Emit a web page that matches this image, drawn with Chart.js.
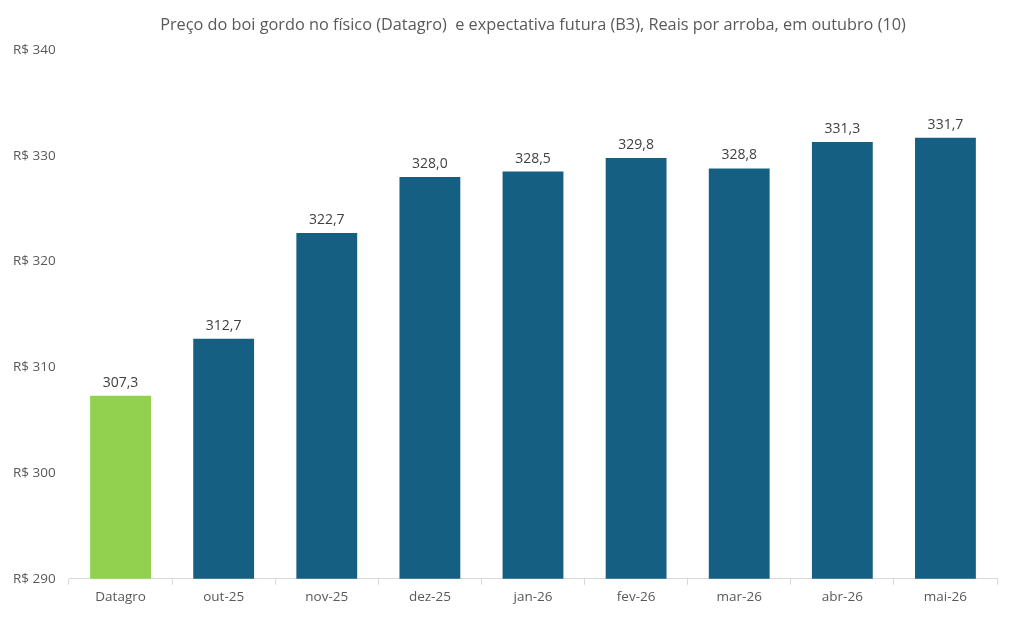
<!DOCTYPE html>
<html><head><meta charset="utf-8">
<script src="https://cdn.jsdelivr.net/npm/chart.js@4"></script>
<style>html,body{margin:0;padding:0;background:#fff}#w{width:1011px;height:629px}</style>
</head><body><div id="w"><canvas id="c"></canvas></div>
<script>
const categories = ["Datagro","out-25","nov-25","dez-25","jan-26","fev-26","mar-26","abr-26","mai-26"];
const values = [307.3,312.7,322.7,328.0,328.5,329.8,328.8,331.3,331.7];
const barColors = ["#92d050","#156082","#156082","#156082","#156082","#156082","#156082","#156082","#156082"];
const yMin = 290, yMax = 340, yStep = 10;
const titleText = "Preço do boi gordo no físico (Datagro)  e expectativa futura (B3), Reais por arroba, em outubro (10)";
const FONT = "'Open Sans', 'Noto Sans', sans-serif";

const labelPlugin = {
  id: 'barLabels',
  afterDatasetsDraw(chart) {
    const ctx = chart.ctx;
    const meta = chart.getDatasetMeta(0);
    ctx.save();
    ctx.font = "14px " + FONT;
    ctx.fillStyle = "#404040";
    ctx.textAlign = "center";
    ctx.textBaseline = "bottom";
    meta.data.forEach((el, i) => {
      ctx.fillText(values[i].toFixed(1).replace('.', ','), el.x, el.y - 6);
    });
    ctx.restore();
  }
};

const titlePlugin = {
  id: 'centeredTitle',
  afterDraw(chart) {
    const ctx = chart.ctx, a = chart.chartArea;
    ctx.save();
    ctx.font = "16.3px " + FONT;
    ctx.fillStyle = "#595959";
    ctx.textAlign = "center";
    ctx.textBaseline = "middle";
    ctx.fillText(titleText, (a.left + a.right) / 2, 25);
    ctx.restore();
  }
};

new Chart(document.getElementById('c'), {
  type: 'bar',
  data: { labels: categories, datasets: [{ data: values, backgroundColor: barColors, barPercentage: 0.59, categoryPercentage: 1.0 }] },
  options: {
    responsive: true, maintainAspectRatio: false, animation: false,
    layout: { padding: { left: 13, right: 14, top: 50, bottom: 20 } },
    plugins: {
      legend: { display: false }, tooltip: { enabled: false }, title: { display: false }
    },
    scales: {
      x: {
        grid: { display: true, offset: true, drawOnChartArea: false, drawTicks: true, tickLength: 6, color: "#d9d9d9" },
        border: { display: true, color: "#d9d9d9" },
        ticks: { color: "#595959", font: { family: FONT, size: 13.5 }, padding: 4 }
      },
      y: {
        min: yMin, max: yMax,
        afterFit: s => { s.width = 56; },
        grid: { display: false },
        border: { display: false },
        ticks: { stepSize: yStep, color: "#595959", font: { family: FONT, size: 13.5 }, align: 'center', crossAlign: 'far', padding: 10, callback: v => "R$ " + v }
      }
    }
  },
  plugins: [labelPlugin, titlePlugin]
});
</script></body></html>
